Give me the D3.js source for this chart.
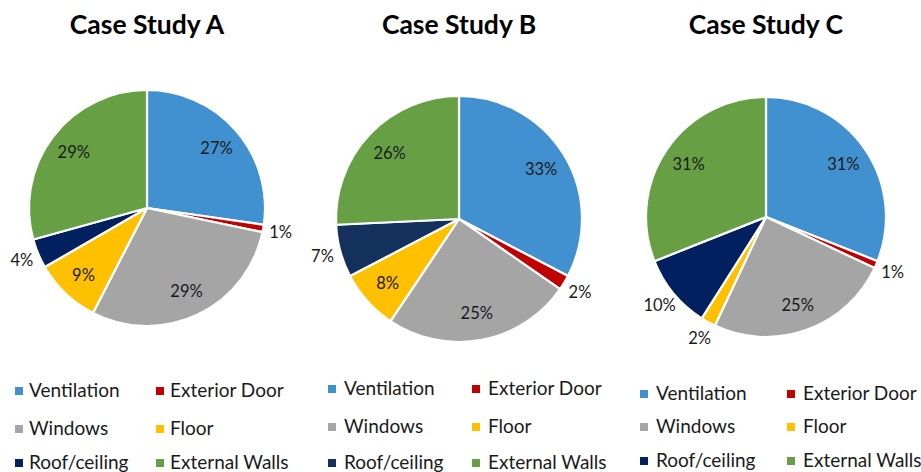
<!DOCTYPE html>
<html>
<head>
<meta charset="utf-8">
<script src="https://cdn.jsdelivr.net/npm/d3@7"></script>
<style>
  html, body { margin: 0; padding: 0; background: #fff; }
  svg { display: block; font-family: Lato, "Open Sans", sans-serif; }
</style>
</head>
<body>
<svg id="chart" width="921" height="472"></svg>
<script>
// Heat-loss shares by building element, one pie per case study
const categories = ["Ventilation", "Exterior Door", "Windows", "Floor", "Roof/ceiling", "External Walls"];
const caseTitles = ["Case Study A", "Case Study B", "Case Study C"];
const caseA = [27, 1, 29, 9, 4, 29];
const caseB = [33, 2, 25, 8, 7, 26];
const caseC = [31, 1, 25, 2, 10, 31];
const caseValues = [caseA, caseB, caseC];
// Slices whose percentage sits outside the pie
const outsideA = ["Exterior Door", "Roof/ceiling"];
const outsideB = ["Exterior Door", "Roof/ceiling"];
const outsideC = ["Exterior Door", "Floor", "Roof/ceiling"];
const outsideLabels = [outsideA, outsideB, outsideC];

const palettes = [
  ["#4191d0", "#c00000", "#a5a5a5", "#ffc000", "#002060", "#67a044"],
  ["#4191d0", "#c00000", "#a5a5a5", "#ffc000", "#13315c", "#67a044"],
  ["#4191d0", "#c00000", "#a5a5a5", "#ffc000", "#002060", "#67a044"]
];

// Panel geometry (legend rows are text baselines)
const panels = [
  { cx: 147, cy: 208, r: 118, titleY: 34, legX: 15, legX2: 156, legY: [397, 435, 469], textDx: 14 },
  { cx: 459, cy: 219, r: 123, titleY: 34, legX: 328, legX2: 472, legY: [395, 433, 469], textDx: 16 },
  { cx: 766, cy: 217, r: 120, titleY: 34, legX: 640, legX2: 787, legY: [400, 433, 467], textDx: 16 }
];

const svg = d3.select("#chart");
const pie = d3.pie().sort(null).startAngle(0).endAngle(2 * Math.PI);

panels.forEach((p, i) => {
  const color = d3.scaleOrdinal().domain(categories).range(palettes[i]);
  const data = categories.map((c, k) => ({ name: c, value: caseValues[i][k] }));
  const arcs = pie.value(d => d.value)(data);
  const arc = d3.arc().innerRadius(0).outerRadius(p.r);
  const inLabel = d3.arc().innerRadius(p.r * 0.78).outerRadius(p.r * 0.78);
  const outLabel = d3.arc().innerRadius(p.r * 1.15).outerRadius(p.r * 1.15);

  const g = svg.append("g").attr("transform", `translate(${p.cx},${p.cy})`);

  g.selectAll("path.slice")
    .data(arcs)
    .join("path")
    .attr("class", "slice")
    .attr("d", arc)
    .attr("fill", d => color(d.data.name))
    .attr("stroke", "#fff")
    .attr("stroke-width", 2.2)
    .attr("stroke-linejoin", "round");

  g.selectAll("text.pct")
    .data(arcs)
    .join("text")
    .attr("class", "pct")
    .attr("transform", d => {
      const a = outsideLabels[i].includes(d.data.name) ? outLabel : inLabel;
      return `translate(${a.centroid(d)})`;
    })
    .attr("text-anchor", "middle")
    .attr("dy", "0.36em")
    .attr("font-size", 16.5)
    .attr("fill", "#1a1a1a")
    .text(d => d.data.value + "%");

  svg.append("text")
    .attr("x", p.cx)
    .attr("y", p.titleY)
    .attr("text-anchor", "middle")
    .attr("font-size", 26.5)
    .attr("font-weight", 700)
    .attr("fill", "#000")
    .text(caseTitles[i]);

  // Legend: two columns, three rows
  const leg = svg.append("g");
  categories.forEach((c, k) => {
    const col = k % 2, row = Math.floor(k / 2);
    const x = col === 0 ? p.legX : p.legX2;
    const y = p.legY[row];
    leg.append("rect")
      .attr("x", x).attr("y", y - 10)
      .attr("width", 8).attr("height", 8)
      .attr("fill", color(c));
    leg.append("text")
      .attr("x", x + p.textDx)
      .attr("y", y)
      .attr("font-size", 19)
      .attr("fill", "#1a1a1a")
      .text(c);
  });
});
</script>
</body>
</html>
